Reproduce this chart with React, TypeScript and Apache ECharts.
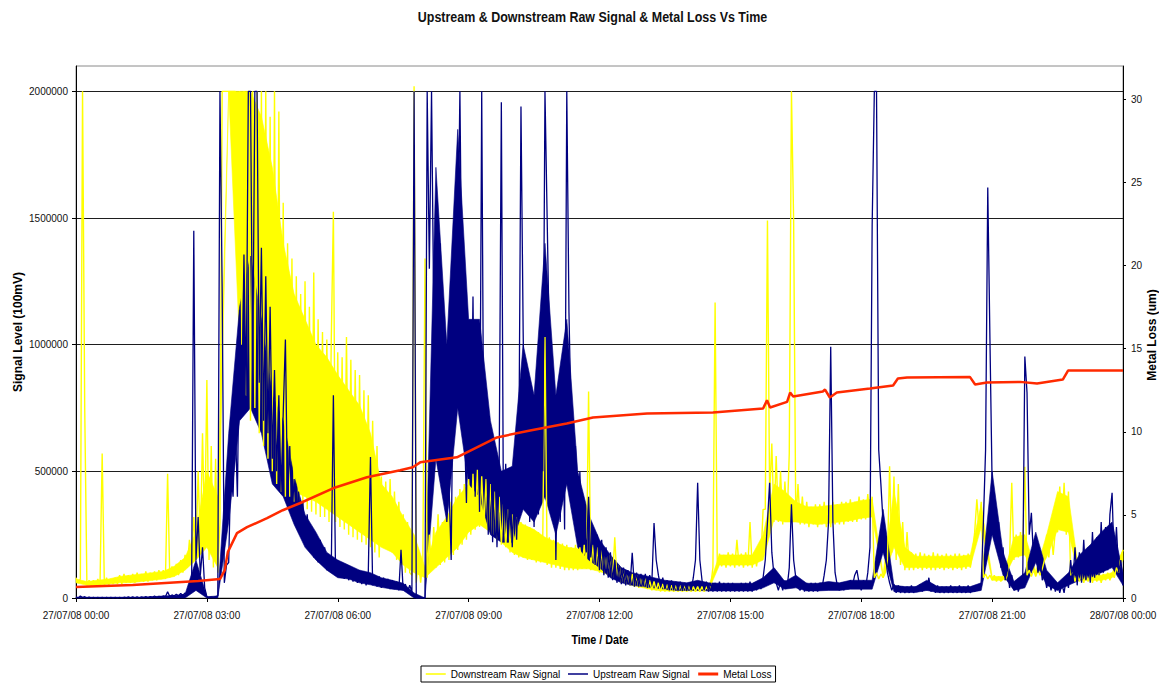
import React, { useEffect, useRef } from "react";
import * as echarts from "echarts";

const TITLE = "Upstream & Downstream Raw Signal & Metal Loss Vs Time";
const LEFT_NAME = "Signal Level (100mV)";
const RIGHT_NAME = "Metal Loss (um)";
const X_NAME = "Time / Date";

// sampling step of the two raw signal series, in hours (3 minutes)
const STEP_HOURS = 0.05;
// step of the dense-noise body (envelope) of each signal, in hours
const BAND_STEP_HOURS = 0.25;

const xTickHours = [0, 3, 6, 9, 12, 15, 18, 21, 24];
const xTickLabels = [
  "27/07/08 00:00",
  "27/07/08 03:00",
  "27/07/08 06:00",
  "27/07/08 09:00",
  "27/07/08 12:00",
  "27/07/08 15:00",
  "27/07/08 18:00",
  "27/07/08 21:00",
  "28/07/08 00:00",
];
const signalTicks = [0, 500000, 1000000, 1500000, 2000000];
const lossTicks = [0, 5, 10, 15, 20, 25, 30];

// Downstream raw signal, in thousands (x 1000 = 100nV units), one row per hour
const downstreamK = [
  80, 60, 75, 2000, 750, 50, 70, 45, 70, 45, 75, 50, 570, 50, 80, 50, 75, 55, 80, 55,
  90, 55, 95, 60, 90, 60, 95, 60, 100, 65, 95, 65, 105, 65, 100, 70, 105, 70, 110, 75,
  110, 75, 490, 80, 125, 85, 135, 90, 150, 100, 170, 120, 230, 140, 320, 180, 500, 200, 650, 250,
  860, 150, 600, 120, 550, 100, 300, 2000, 2000, 2000, 2000, 2000, 2000, 2000, 1360, 2000, 1000, 2000, 800, 2000,
  700, 2000, 750, 2000, 650, 2000, 600, 2000, 550, 1900, 500, 2000, 450, 1920, 420, 1560, 400, 1400, 400, 1340,
  380, 1270, 380, 1200, 360, 1250, 350, 1150, 340, 1285, 330, 1100, 320, 1050, 320, 1020, 300, 1000, 1525, 300,
  970, 280, 950, 270, 1030, 250, 940, 240, 900, 230, 880, 220, 820, 210, 800, 200, 700, 180, 600, 160,
  480, 200, 460, 190, 470, 180, 420, 150, 380, 130, 330, 100, 300, 100, 90, 2020, 60, 150, 60, 140,
  1340, 80, 250, 110, 280, 120, 330, 130, 300, 140, 340, 150, 380, 170, 400, 190, 430, 210, 450, 230,
  470, 250, 490, 270, 506, 280, 480, 280, 470, 270, 450, 250, 420, 230, 400, 210, 370, 200, 350, 180,
  330, 170, 320, 160, 300, 160, 290, 150, 280, 150, 270, 140, 260, 140, 250, 1030, 130, 240, 120, 230,
  120, 220, 115, 215, 110, 210, 110, 200, 110, 210, 110, 200, 115, 210, 115, 815, 110, 210, 110, 200,
  100, 190, 95, 180, 90, 170, 80, 240, 70, 130, 60, 110, 55, 100, 50, 95, 45, 90, 40, 85,
  40, 80, 35, 70, 30, 65, 30, 60, 25, 55, 25, 55, 25, 50, 25, 50, 25, 50, 25, 50,
  25, 50, 25, 45, 25, 45, 25, 45, 25, 45, 30, 50, 120, 1166, 125, 175, 125, 170, 120, 180,
  125, 175, 120, 230, 125, 175, 120, 180, 125, 300, 120, 180, 125, 190, 150, 350, 350, 1490, 400, 610,
  300, 560, 300, 500, 290, 460, 300, 570, 2000, 1490, 300, 450, 290, 400, 290, 380, 280, 360, 290, 370,
  280, 370, 290, 380, 280, 360, 280, 380, 290, 370, 290, 380, 290, 380, 300, 390, 300, 380, 300, 400,
  310, 390, 310, 410, 320, 400, 80, 100, 75, 95, 80, 100, 150, 520, 180, 480, 150, 450, 130, 300,
  110, 260, 110, 180, 110, 175, 115, 180, 110, 175, 115, 170, 110, 180, 110, 175, 115, 170, 110, 175,
  115, 170, 110, 175, 115, 175, 110, 170, 115, 175, 120, 175, 260, 390, 270, 380, 80, 95, 75, 90,
  70, 90, 65, 85, 65, 85, 70, 90, 160, 455, 150, 250, 160, 260, 170, 518, 90, 110, 85, 110,
  85, 110, 90, 115, 150, 250, 160, 260, 170, 270, 260, 440, 280, 455, 250, 420, 90, 100, 65, 95,
  65, 95, 60, 95, 65, 95, 60, 95, 65, 100, 60, 95, 70, 100, 70, 100, 80, 120, 100, 160,
  190,
];

// Upstream raw signal, in thousands, one row per hour
const upstreamK = [
  5, 0, 8, 2, 5, 0, 4, 0, 3, 0, 3, 0, 3, 0, 3, 0, 3, 0, 3, 0,
  3, 0, 3, 1, 4, 1, 4, 1, 4, 1, 4, 2, 5, 2, 5, 3, 8, 3, 6, 4,
  8, 5, 25, 6, 12, 8, 15, 8, 18, 10, 20, 10, 30, 40, 1450, 150, 320, 90, 200, 40,
  5, 2, 4, 2, 5, 8, 2000, 1230, 60, 130, 140, 520, 400, 700, 400, 1138, 750, 1356, 800, 2000,
  2000, 900, 2000, 2000, 850, 1383, 700, 1270, 650, 1150, 550, 900, 500, 800, 420, 730, 1020, 380, 600, 320,
  470, 300, 420, 270, 380, 240, 330, 200, 280, 160, 250, 140, 230, 130, 200, 110, 170, 100, 800, 90,
  150, 85, 140, 75, 130, 70, 120, 65, 115, 60, 110, 55, 105, 50, 100, 557, 50, 90, 45, 85,
  40, 80, 40, 75, 35, 70, 35, 65, 30, 190, 30, 55, 25, 50, 25, 2000, 0, 0, 0, 0,
  0, 2000, 1300, 2000, 1130, 900, 700, 1400, 550, 600, 300, 450, 150, 1000, 1500, 1300, 2000, 1100, 700, 375,
  900, 500, 1190, 400, 1000, 340, 2000, 450, 730, 250, 650, 220, 600, 200, 500, 1957, 250, 530, 220, 480,
  200, 450, 230, 520, 1940, 1050, 400, 860, 300, 800, 280, 700, 330, 860, 500, 2000, 1500, 1000, 400, 860,
  150, 700, 300, 800, 270, 2000, 1127, 700, 470, 600, 250, 500, 220, 300, 180, 400, 160, 270, 130, 250,
  110, 230, 90, 200, 80, 180, 70, 150, 60, 130, 55, 120, 50, 110, 50, 178, 45, 100, 45, 95,
  45, 95, 40, 90, 60, 296, 150, 90, 45, 80, 35, 70, 30, 70, 30, 65, 28, 65, 28, 60,
  28, 60, 30, 80, 150, 455, 150, 70, 30, 65, 25, 60, 25, 60, 25, 65, 25, 60, 25, 60,
  25, 60, 25, 55, 25, 60, 25, 60, 25, 65, 25, 60, 30, 65, 35, 80, 150, 300, 455, 180,
  90, 60, 30, 65, 30, 70, 40, 120, 370, 150, 80, 40, 30, 65, 25, 60, 25, 60, 25, 60,
  25, 60, 40, 90, 150, 300, 992, 300, 100, 50, 30, 60, 30, 60, 35, 70, 50, 90, 110, 60,
  30, 70, 40, 100, 200, 1470, 2000, 2000, 585, 450, 300, 180, 100, 60, 30, 55, 20, 50, 20, 45,
  20, 45, 20, 50, 20, 45, 25, 55, 25, 60, 30, 80, 25, 55, 20, 50, 20, 45, 20, 45,
  20, 50, 20, 45, 20, 50, 20, 45, 20, 50, 20, 45, 25, 50, 30, 60, 300, 585, 1620, 1020,
  450, 380, 200, 300, 120, 200, 70, 130, 40, 90, 30, 70, 25, 60, 40, 953, 810, 250, 336, 150,
  200, 100, 150, 70, 100, 40, 80, 30, 70, 25, 60, 20, 55, 20, 80, 40, 150, 60, 200, 50,
  180, 60, 230, 70, 200, 60, 260, 80, 240, 90, 300, 100, 280, 110, 330, 415, 120, 280, 100, 150,
  50,
];

// Dense-noise body of each signal (lower / upper edge), in thousands, every 0.25 h
const downstreamBodyLowK = [
  60, 50, 50, 55, 60, 60, 65, 70, 75,
  85, 110, 150, 200, 120, 2000, 1000, 800,
  700, 600, 480, 420, 400, 380, 350, 320,
  290, 260, 230, 200, 180, 130, 100, 80,
  120, 160, 200, 260, 290, 260, 220, 180,
  160, 150, 140, 130, 120, 115, 115, 105,
  90, 65, 50, 40, 32, 28, 28, 28,
  28, 30, 130, 130, 130, 130, 150, 310,
  300, 300, 295, 290, 295, 300, 305, 315,
  320, 80, 200, 120, 120, 120, 120, 120,
  120, 125, 280, 70, 70, 160, 170, 90,
  160, 270, 260, 70, 70, 70, 80, 150,
];
const downstreamBodyHighK = [
  75, 65, 70, 75, 85, 90, 95, 100, 105,
  125, 160, 260, 500, 400, 2000, 2000, 2000,
  1900, 1700, 1400, 1200, 1100, 1000, 950, 880,
  820, 760, 650, 450, 400, 320, 250, 120,
  260, 320, 400, 450, 470, 430, 380, 320,
  290, 270, 240, 220, 200, 195, 200, 180,
  160, 110, 90, 75, 60, 50, 48, 45,
  45, 45, 170, 170, 170, 170, 250, 450,
  420, 380, 360, 360, 365, 370, 375, 385,
  390, 95, 420, 200, 165, 165, 165, 165,
  165, 170, 370, 85, 85, 240, 250, 105,
  250, 420, 400, 90, 90, 90, 100, 190,
];
const upstreamBodyLowK = [
  0, 0, 0, 0, 0, 0, 0, 0, 0,
  0, 0, 30, 0, 0, 300, 700, 750,
  650, 450, 400, 290, 200, 150, 110, 80,
  75, 60, 52, 42, 35, 30, 0, 0,
  550, 300, 750, 450, 400, 250, 220, 220,
  350, 300, 400, 250, 450, 200, 150, 120,
  80, 60, 50, 45, 40, 35, 30, 30,
  30, 28, 28, 28, 28, 28, 40, 60,
  35, 40, 28, 28, 30, 30, 35, 35,
  35, 180, 25, 22, 22, 30, 22, 22,
  22, 22, 30, 250, 90, 30, 40, 140,
  50, 30, 50, 70, 80, 100, 120, 50,
];
const upstreamBodyHighK = [
  3, 3, 3, 3, 3, 3, 3, 5, 8,
  10, 15, 150, 5, 8, 650, 1150, 1350,
  1100, 800, 700, 480, 330, 260, 180, 150,
  130, 110, 100, 80, 70, 58, 20, 0,
  1700, 1000, 1850, 1100, 1100, 700, 500, 520,
  1000, 800, 1400, 800, 1100, 500, 330, 230,
  170, 120, 100, 90, 80, 70, 65, 60,
  70, 60, 58, 58, 58, 58, 80, 120,
  65, 90, 58, 58, 65, 60, 70, 70,
  70, 350, 50, 45, 45, 70, 45, 45,
  45, 45, 60, 500, 180, 65, 100, 260,
  110, 60, 100, 170, 210, 260, 300, 100,
];

// Metal loss (um) against time (hours)
const metalLossHours = [
  0, 1.3, 2.8, 3.3, 3.41, 3.48, 3.69, 3.92, 4.38, 4.74, 5.13, 5.89, 6.67, 7.43, 7.72, 7.89,
  8.73, 9.65, 10.41, 11.25, 11.85, 13.09, 14.6, 15.75, 15.84, 15.91, 16.3, 16.37, 16.44,
  17.12, 17.17, 17.28, 17.44, 18.2, 18.73, 18.84, 19.05, 20.49, 20.61, 20.88, 21.64, 22.03,
  22.62, 22.74, 24,
];
const metalLoss = [
  0.66, 0.78, 1.02, 1.14, 1.68, 2.76, 3.9, 4.26, 4.8, 5.28, 5.7, 6.6, 7.26, 7.68, 7.86, 8.16,
  8.46, 9.66, 10.08, 10.5, 10.86, 11.1, 11.16, 11.4, 11.9, 11.46, 11.8, 12.36, 12.12,
  12.42, 12.54, 12.06, 12.36, 12.6, 12.78, 13.2, 13.26, 13.3, 12.84, 12.96, 13.0, 12.9,
  13.14, 13.68, 13.68,
];

const FONT = "'Liberation Sans', Arial, sans-serif";
const YELLOW = "#FFFF00";
const NAVY = "#000080";
const RED = "#FF2A00";

const hoursAt = (i: number, step: number) => Math.round(i * step * 100) / 100;

export default function App() {
  const ref = useRef<HTMLDivElement>(null);

  useEffect(() => {
    if (!ref.current) return;
    const chart = echarts.init(ref.current, null, { renderer: "svg" });

    const down = downstreamK.map((v, i) => [hoursAt(i, STEP_HOURS), v * 1000]);
    const up = upstreamK.map((v, i) => [hoursAt(i, STEP_HOURS), v * 1000]);
    const loss = metalLossHours.map((h, i) => [h, metalLoss[i]]);

    // filled body between a lower and an upper edge, one polygon placed through the axes' scales
    const body = (low: number[], high: number[], color: string, id: string) => ({
      id,
      name: id,
      type: "custom",
      coordinateSystem: "cartesian2d",
      xAxisIndex: 0,
      yAxisIndex: 0,
      silent: true,
      z: 2,
      data: [[0, 0]],
      encode: { x: 0, y: 1 },
      renderItem: (_params: any, api: any) => {
        const pts: number[][] = [];
        for (let i = 0; i < low.length; i++) pts.push(api.coord([hoursAt(i, BAND_STEP_HOURS), low[i] * 1000]));
        for (let i = high.length - 1; i >= 0; i--) pts.push(api.coord([hoursAt(i, BAND_STEP_HOURS), high[i] * 1000]));
        return {
          type: "polygon",
          shape: { points: pts },
          style: { fill: color, stroke: color, lineWidth: 0.6 },
          silent: true,
        };
      },
    });

    const hiddenSymbol = { color: "transparent", borderColor: "transparent", borderWidth: 0, opacity: 0 };

    chart.setOption({
      animation: false,
      backgroundColor: "#ffffff",
      grid: {
        left: 76,
        right: 36,
        top: 66,
        bottom: 87,
        containLabel: false,
        outerBoundsMode: "none",
        show: true,
        borderColor: "#8a8a8a",
        borderWidth: 1,
        backgroundColor: "transparent",
      },
      legend: {
        show: true,
        left: 421,
        top: 666,
        orient: "horizontal",
        itemWidth: 20,
        itemHeight: 10,
        itemGap: 7,
        padding: [3, 4, 3, 4],
        borderColor: "#000",
        borderWidth: 1,
        selectedMode: false,
        itemStyle: hiddenSymbol,
        textStyle: { fontSize: 10, color: "#000", fontFamily: FONT },
        data: [
          { name: "Downstream Raw Signal", itemStyle: hiddenSymbol, lineStyle: { color: YELLOW, width: 1.5 } },
          { name: "Upstream Raw Signal", itemStyle: hiddenSymbol, lineStyle: { color: NAVY, width: 1.5 } },
          { name: "Metal Loss", itemStyle: hiddenSymbol, lineStyle: { color: RED, width: 3 } },
        ],
      },
      xAxis: {
        type: "value",
        min: 0,
        max: 24,
        interval: 3,
        axisLine: { show: true, lineStyle: { color: "#000", width: 1 } },
        axisTick: { show: true, length: 4, lineStyle: { color: "#000" } },
        axisLabel: {
          show: true,
          fontSize: 10,
          color: "#111",
          fontFamily: FONT,
          margin: 12,
          hideOverlap: false,
          showMinLabel: true,
          showMaxLabel: true,
          formatter: (v: number) => {
            const idx = xTickHours.indexOf(Math.round(v));
            return idx >= 0 ? xTickLabels[idx] : "";
          },
        },
        splitLine: { show: false },
      },
      yAxis: [
        {
          type: "value",
          position: "left",
          min: 0,
          max: 2100000,
          interval: 500000,
          axisLine: { show: true, lineStyle: { color: "#000", width: 1 } },
          axisTick: { show: true, length: 4, lineStyle: { color: "#000" }, customValues: signalTicks },
          axisLabel: {
            fontSize: 10,
            color: "#111",
            fontFamily: FONT,
            margin: 8,
            hideOverlap: false,
            customValues: signalTicks,
            formatter: (v: number) => (signalTicks.indexOf(v) >= 0 ? String(v) : ""),
          },
          splitLine: { show: true, lineStyle: { color: "#1e1e1e", width: 1 } },
        },
        {
          type: "value",
          position: "right",
          min: 0,
          max: 32,
          interval: 5,
          axisLine: { show: true, lineStyle: { color: "#000", width: 1 } },
          axisTick: { show: true, length: 3, lineStyle: { color: "#000" }, customValues: lossTicks },
          axisLabel: {
            fontSize: 10,
            color: "#111",
            fontFamily: FONT,
            margin: 8,
            hideOverlap: false,
            customValues: lossTicks,
            formatter: (v: number) => (lossTicks.indexOf(v) >= 0 ? String(v) : ""),
          },
          splitLine: { show: false },
        },
      ],
      graphic: [
        {
          type: "text",
          x: 592.5,
          y: 17,
          scaleX: 0.89,
          style: {
            text: TITLE,
            fontSize: 14,
            fontWeight: "bold",
            fontFamily: FONT,
            fill: "#111",
            textAlign: "center",
            textVerticalAlign: "middle",
            align: "center",
            verticalAlign: "middle",
          },
        },
        {
          type: "text",
          x: 18,
          y: 332,
          rotation: Math.PI / 2,
          style: {
            text: LEFT_NAME,
            fontSize: 12,
            fontWeight: "bold",
            fontFamily: FONT,
            fill: "#000",
            textAlign: "center",
            textVerticalAlign: "middle",
            align: "center",
            verticalAlign: "middle",
          },
        },
        {
          type: "text",
          x: 1152,
          y: 335,
          rotation: Math.PI / 2,
          style: {
            text: RIGHT_NAME,
            fontSize: 12,
            fontWeight: "bold",
            fontFamily: FONT,
            fill: "#000",
            textAlign: "center",
            textVerticalAlign: "middle",
            align: "center",
            verticalAlign: "middle",
          },
        },
        {
          type: "text",
          x: 600,
          y: 639,
          scaleX: 0.86,
          style: {
            text: X_NAME,
            fontSize: 12.5,
            fontWeight: "bold",
            fontFamily: FONT,
            fill: "#000",
            textAlign: "center",
            textVerticalAlign: "middle",
            align: "center",
            verticalAlign: "middle",
          },
        },
      ],
      series: [
        body(downstreamBodyLowK, downstreamBodyHighK, YELLOW, "downstreamBody"),
        {
          name: "Downstream Raw Signal",
          type: "line",
          yAxisIndex: 0,
          data: down,
          symbol: "none",
          showSymbol: false,
          silent: true,
          progressive: 0,
          lineStyle: { color: YELLOW, width: 1.4 },
          itemStyle: { color: YELLOW },
          z: 2,
        },
        body(upstreamBodyLowK, upstreamBodyHighK, NAVY, "upstreamBody"),
        {
          name: "Upstream Raw Signal",
          type: "line",
          yAxisIndex: 0,
          data: up,
          symbol: "none",
          showSymbol: false,
          silent: true,
          progressive: 0,
          lineStyle: { color: NAVY, width: 1.3 },
          itemStyle: { color: NAVY },
          z: 2,
        },
        {
          name: "Metal Loss",
          type: "line",
          yAxisIndex: 1,
          data: loss,
          symbol: "none",
          showSymbol: false,
          silent: true,
          lineStyle: { color: RED, width: 2.5 },
          itemStyle: { color: RED },
          z: 4,
        },
      ],
    });

    return () => chart.dispose();
  }, []);

  return (
    <div
      ref={ref}
      style={{ position: "fixed", left: 0, top: 0, width: 1159, height: 685, background: "#fff" }}
    />
  );
}
